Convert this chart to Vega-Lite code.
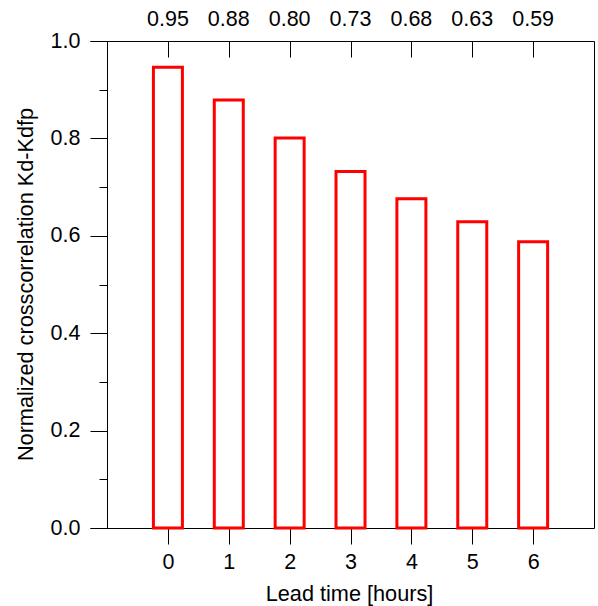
{
  "$schema": "https://vega.github.io/schema/vega-lite/v6.json",
  "width": 504,
  "height": 487,
  "autosize": {"type": "none"},
  "padding": {"left": 90, "top": 41, "right": 4, "bottom": 78},
  "background": "white",
  "config": {
    "view": {"stroke": null},
    "font": "Liberation Sans",
    "axis": {
      "grid": false,
      "domainColor": "black",
      "tickColor": "black",
      "labelColor": "black",
      "titleColor": "black",
      "domainWidth": 1,
      "tickWidth": 1,
      "labelFont": "Liberation Sans",
      "titleFont": "Liberation Sans",
      "labelFontSize": 21.5,
      "titleFontSize": 21.7,
      "titleFontWeight": "normal"
    }
  },
  "data": {
    "values": [
      {"lead": 0, "r": 0.946},
      {"lead": 1, "r": 0.879},
      {"lead": 2, "r": 0.801},
      {"lead": 3, "r": 0.732},
      {"lead": 4, "r": 0.676},
      {"lead": 5, "r": 0.629},
      {"lead": 6, "r": 0.588}
    ]
  },
  "layer": [
    {
      "mark": {"type": "bar", "fill": "white", "stroke": "#ff0000", "strokeWidth": 3, "size": 29},
      "encoding": {
        "x": {
          "field": "lead", "type": "quantitative",
          "scale": {"domain": [-1.28, 7], "nice": false, "zero": false, "padding": 0},
          "axis": {
            "orient": "bottom", "values": [0, 1, 2, 3, 4, 5, 6], "format": "d",
            "tickSize": 16, "labelPadding": 7,
            "title": "Lead time [hours]", "titleX": 259, "titleY": 72, "titleBaseline": "alphabetic"
          }
        },
        "y": {
          "field": "r", "type": "quantitative",
          "scale": {"domain": [0, 1], "nice": false},
          "axis": {
            "orient": "left", "offset": -17,
            "values": [0, 0.2, 0.4, 0.6, 0.8, 1], "format": ".1f",
            "tickSize": 17, "labelPadding": 10,
            "title": "Normalized crosscorrelation Kd-Kdfp",
            "titleX": -75, "titleY": 243, "titleAngle": -90, "titleBaseline": "alphabetic", "titleAlign": "center"
          }
        }
      }
    },
    {
      "mark": {"type": "text", "fontSize": 21.5, "baseline": "alphabetic", "dy": -15, "color": "black", "font": "Liberation Sans"},
      "encoding": {
        "x": {
          "field": "lead", "type": "quantitative",
          "axis": {"orient": "top", "values": [0, 1, 2, 3, 4, 5, 6], "tickSize": -16, "labels": false, "title": null}
        },
        "y": {
          "datum": 1, "type": "quantitative",
          "axis": {"orient": "left", "offset": -17, "values": [0.1, 0.3, 0.5, 0.7, 0.9], "tickSize": 8, "labels": false, "title": null, "domain": false}
        },
        "text": {"field": "r", "format": ".2f"}
      }
    },
    {
      "mark": {"type": "rule", "opacity": 0},
      "encoding": {
        "y": {
          "datum": 0, "type": "quantitative",
          "axis": {"orient": "right", "ticks": false, "labels": false, "title": null, "domain": true}
        }
      }
    }
  ],
  "resolve": {"axis": {"x": "independent", "y": "independent"}}
}
